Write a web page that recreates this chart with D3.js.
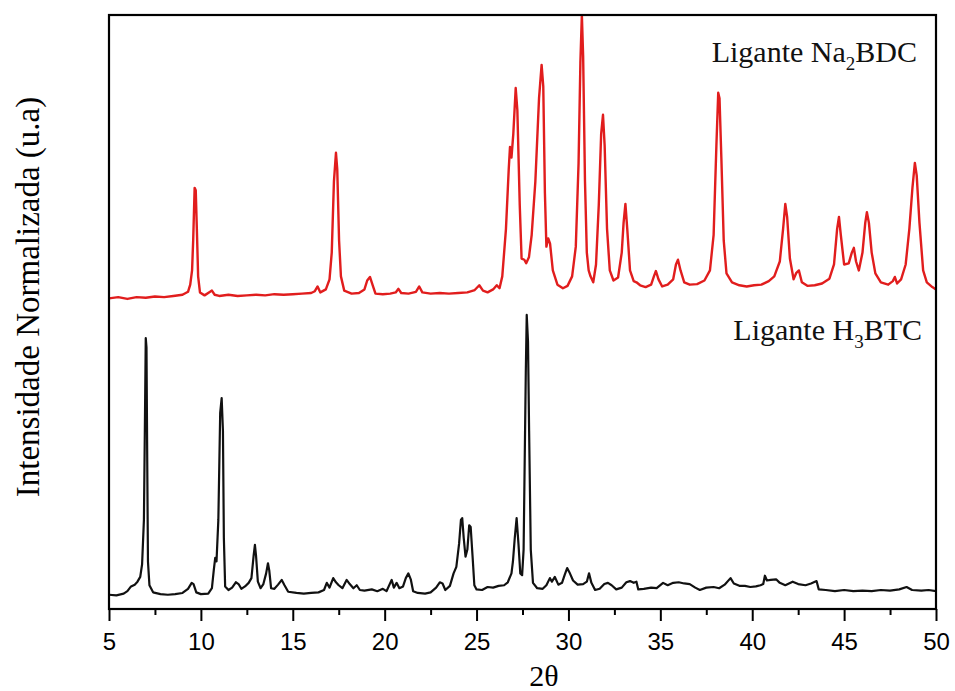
<!DOCTYPE html>
<html>
<head>
<meta charset="utf-8">
<script src="https://cdn.jsdelivr.net/npm/d3@7"></script>
<style>
  html, body { margin: 0; padding: 0; background: #fff; }
  svg { display: block; }
</style>
</head>
<body>
<svg id="chart" width="955" height="691"></svg>
<script>
// Powder X-ray diffraction patterns: [2θ (degrees), normalized intensity]
const seriesNames = ["Ligante Na2BDC", "Ligante H3BTC"];

const na2bdc = [
  [5.0,52.3],[5.5,52.5],[6.0,52.2],[6.5,52.5],[7.0,52.4],[7.5,52.6],[8.0,52.5],[8.5,52.7],[9.0,52.9],
  [9.3,53.4],[9.42,54.6],[9.52,57],[9.58,62],[9.66,70.9],[9.72,70.5],[9.78,64],[9.85,56],[9.95,53.3],[10.2,52.8],
  [10.5,53.4],[10.6,53.6],[10.75,52.9],[11.0,52.7],[11.5,52.9],[12.0,52.7],[12.5,52.8],[13.0,52.9],
  [13.5,52.8],[14.0,53.0],[14.5,52.9],[15.0,53.0],[15.5,53.1],[16.0,53.2],[16.2,53.5],[16.35,54.3],
  [16.5,53.3],[16.8,53.8],[17.0,55.5],[17.12,60],[17.24,72],[17.35,76.8],[17.42,74],[17.52,62],
  [17.62,56],[17.8,53.6],[18.2,53.1],[18.6,53.2],[18.9,53.8],[19.05,55.3],[19.2,55.9],[19.35,54.5],
  [19.5,53.1],[19.9,53.0],[20.3,53.1],[20.6,53.3],[20.75,53.9],[20.9,53.2],[21.3,53.1],[21.7,53.4],
  [21.88,54.3],[22.05,53.3],[22.5,53.1],[23.0,53.2],[23.5,53.1],[24.0,53.2],[24.5,53.3],[24.9,53.7],
  [25.15,54.5],[25.35,53.6],[25.6,53.3],[25.9,53.8],[26.1,54.5],[26.25,54.0],[26.4,56],[26.6,64],
  [26.75,74],[26.82,77.8],[26.9,76],[27.0,80],[27.13,87.7],[27.22,84],[27.35,68],[27.45,59],
  [27.6,58.8],[27.7,58.2],[27.85,59.2],[28.0,63],[28.2,72],[28.4,86],[28.54,91.6],[28.63,88],
  [28.72,70],[28.8,61],[28.9,62.4],[29.0,61.5],[29.15,57],[29.4,54.6],[29.7,54.0],[29.95,54.4],
  [30.2,56],[30.4,61],[30.55,75],[30.65,92],[30.73,100],[30.8,93],[30.9,72],[31.0,60],[31.1,57],
  [31.2,56],[31.35,55],[31.5,58],[31.65,68],[31.78,80],[31.88,83.2],[31.97,78],[32.1,64],[32.25,57],
  [32.45,55.3],[32.7,55.8],[32.9,60],[33.0,65],[33.1,68.2],[33.2,64],[33.35,57],[33.55,55.2],
  [33.7,55.0],[33.9,54.5],[34.2,54.2],[34.5,54.6],[34.65,56],[34.76,56.9],[34.9,55.5],[35.1,54.3],
  [35.4,54.6],[35.7,55.5],[35.85,58],[35.96,58.8],[36.1,57],[36.3,55],[36.6,54.6],[37.0,54.7],
  [37.4,55.3],[37.7,57],[37.9,63],[38.05,78],[38.15,86.9],[38.22,86],[38.32,76],[38.45,62],
  [38.6,56.5],[38.9,55],[39.3,54.5],[39.7,54.3],[40.1,54.5],[40.5,54.6],[40.9,55.2],[41.2,56],
  [41.5,58.5],[41.68,64],[41.8,68.2],[41.9,66],[42.05,59],[42.25,55.5],[42.4,56.6],[42.54,57],
  [42.7,55],[43.0,54.4],[43.4,54.5],[43.8,54.8],[44.2,55.6],[44.45,58],[44.62,64],[44.72,66],
  [44.82,63],[45.0,58],[45.25,58.2],[45.42,60],[45.53,60.8],[45.65,58.5],[45.8,57],[46.0,60],
  [46.15,65],[46.24,66.8],[46.35,65],[46.5,60],[46.7,56.5],[47.0,55],[47.4,54.6],[47.65,55.2],
  [47.76,55.9],[47.88,54.8],[48.1,55.5],[48.35,58],[48.55,64],[48.72,71],[48.85,75.1],[48.95,73],
  [49.1,65],[49.3,57],[49.5,55],[49.8,54.2],[50.0,53.8]
];

const h3btc = [
  [5.0,2.4],[5.4,2.3],[5.8,2.6],[6.0,3.0],[6.2,3.8],[6.4,4.1],[6.55,4.6],[6.7,5.4],[6.8,7.5],
  [6.9,15],[6.95,30],[7.0,45.6],[7.04,44],[7.08,25],[7.12,8],[7.2,4.0],[7.4,2.8],[7.8,2.5],
  [8.2,2.4],[8.6,2.5],[9.0,2.7],[9.3,3.4],[9.5,4.4],[9.6,4.2],[9.75,2.8],[10.0,2.5],[10.4,2.6],
  [10.6,3.5],[10.7,6.5],[10.78,8.6],[10.85,8.0],[10.95,15],[11.05,33],[11.13,35.5],[11.2,30],
  [11.25,12],[11.32,3.8],[11.5,3.2],[11.7,3.6],[11.9,4.5],[12.05,4.2],[12.2,3.4],[12.4,3.8],
  [12.6,4.4],[12.75,5.2],[12.87,9.0],[12.94,10.8],[13.0,9.0],[13.1,4.6],[13.25,3.5],[13.4,4.2],
  [13.55,6.0],[13.65,7.7],[13.72,6.5],[13.82,3.5],[14.0,3.4],[14.2,4.1],[14.4,4.9],[14.55,4.0],
  [14.75,2.9],[15.2,2.7],[15.6,2.6],[16.0,2.7],[16.4,2.8],[16.7,3.2],[16.85,4.4],[17.0,3.6],
  [17.2,5.2],[17.35,4.5],[17.5,4.0],[17.7,3.5],[17.93,4.9],[18.1,4.2],[18.3,3.5],[18.48,4.0],
  [18.65,3.2],[18.9,3.1],[19.3,3.3],[19.6,3.0],[19.9,3.4],[20.1,3.0],[20.38,4.9],[20.5,3.6],
  [20.65,4.4],[20.8,3.5],[21.0,3.8],[21.15,5.2],[21.29,6.0],[21.42,5.0],[21.55,3.0],[21.8,2.7],
  [22.2,2.6],[22.5,2.8],[22.8,3.6],[23.0,4.5],[23.15,4.3],[23.3,3.2],[23.55,3.9],[23.75,6.0],
  [23.9,7.1],[24.05,11],[24.15,15],[24.22,15.3],[24.3,12],[24.4,8.8],[24.5,10],[24.6,14.1],
  [24.68,13.8],[24.78,9.0],[24.88,4.0],[25.0,3.3],[25.3,3.2],[25.6,3.7],[25.9,3.6],[26.2,3.9],
  [26.5,4.0],[26.7,4.5],[26.9,6.0],[26.98,8.0],[27.08,12],[27.18,15.3],[27.28,11],[27.38,6.0],
  [27.48,5.7],[27.56,10],[27.62,25],[27.68,40],[27.73,49.5],[27.8,45],[27.86,30],[27.95,10],
  [28.07,4.4],[28.3,3.5],[28.6,3.4],[28.8,4.0],[28.99,5.2],[29.1,4.6],[29.26,5.4],[29.45,4.1],
  [29.65,4.4],[29.8,5.8],[29.93,6.9],[30.05,6.2],[30.25,4.8],[30.5,4.1],[30.8,4.2],[31.0,4.6],
  [31.12,6.0],[31.25,4.4],[31.45,3.2],[31.7,3.4],[31.95,4.2],[32.15,4.4],[32.35,4.0],[32.6,3.3],
  [32.9,3.6],[33.15,4.5],[33.35,4.7],[33.55,4.4],[33.7,4.6],[33.8,3.3],[34.1,3.4],[34.5,3.6],
  [34.8,3.5],[35.15,4.4],[35.4,4.0],[35.7,4.4],[36.0,4.5],[36.3,4.3],[36.6,4.2],[36.9,3.6],
  [37.15,3.2],[37.5,3.6],[37.9,3.7],[38.2,3.5],[38.5,4.1],[38.82,5.2],[39.0,4.3],[39.3,3.9],
  [39.6,3.9],[39.9,3.7],[40.2,3.8],[40.45,4.0],[40.6,4.2],[40.69,5.6],[40.8,4.8],[41.0,4.9],
  [41.3,5.0],[41.5,4.4],[41.8,4.0],[42.2,4.6],[42.5,4.2],[42.9,4.0],[43.2,4.3],[43.5,4.7],
  [43.62,3.3],[44.0,3.2],[44.5,3.0],[45.0,3.2],[45.5,3.0],[46.0,3.1],[46.5,3.0],[47.0,3.2],
  [47.5,3.1],[48.0,3.3],[48.4,3.7],[48.7,3.2],[49.2,3.1],[49.6,3.2],[50.0,3.0]
];

const majorTicks = [5, 10, 15, 20, 25, 30, 35, 40, 45, 50];
const minorTicks = [7.5, 12.5, 17.5, 22.5, 27.5, 32.5, 37.5, 42.5, 47.5];

const margin = { left: 109, right: 936, top: 15, bottom: 609 };

const svg = d3.select("#chart");

const x = d3.scaleLinear().domain([5, 50]).range([margin.left, margin.right]);
const y = d3.scaleLinear().domain([0, 100]).range([margin.bottom, margin.top]);

const line = d3.line()
  .x(d => x(d[0]))
  .y(d => y(d[1]));

// clip traces to the plot frame
svg.append("clipPath").attr("id", "plotClip")
  .append("rect")
  .attr("x", margin.left).attr("y", margin.top - 1)
  .attr("width", margin.right - margin.left)
  .attr("height", margin.bottom - margin.top + 1);

const traces = svg.append("g").attr("clip-path", "url(#plotClip)");

traces.append("path")
  .datum(h3btc)
  .attr("fill", "none")
  .attr("stroke", "#111")
  .attr("stroke-width", 2.2)
  .attr("stroke-linejoin", "round")
  .attr("d", line);

traces.append("path")
  .datum(na2bdc)
  .attr("fill", "none")
  .attr("stroke", "#e11d1d")
  .attr("stroke-width", 2.4)
  .attr("stroke-linejoin", "round")
  .attr("d", line);

// bottom axis: major ticks with labels, minor ticks without
const xAxis = svg.append("g")
  .attr("transform", `translate(0,${margin.bottom})`)
  .call(d3.axisBottom(x).tickValues(majorTicks).tickSize(12).tickPadding(12).tickFormat(d3.format("d")));
xAxis.select(".domain").remove();
xAxis.selectAll(".tick line").attr("stroke", "#000").attr("stroke-width", 2);
xAxis.selectAll(".tick text")
  .attr("font-family", "'Liberation Sans', Arial, sans-serif")
  .attr("font-size", 24)
  .attr("fill", "#000");

const xMinor = svg.append("g")
  .attr("transform", `translate(0,${margin.bottom})`)
  .call(d3.axisBottom(x).tickValues(minorTicks).tickSize(6).tickFormat(""));
xMinor.select(".domain").remove();
xMinor.selectAll(".tick line").attr("stroke", "#000").attr("stroke-width", 2);

// plot frame
svg.append("rect")
  .attr("x", margin.left).attr("y", margin.top)
  .attr("width", margin.right - margin.left)
  .attr("height", margin.bottom - margin.top)
  .attr("fill", "none")
  .attr("stroke", "#000")
  .attr("stroke-width", 2.2);

// axis titles
const serif = "'Liberation Serif', 'Times New Roman', serif";

svg.append("text")
  .attr("x", 544).attr("y", 686)
  .attr("text-anchor", "middle")
  .attr("font-family", serif)
  .attr("font-size", 30)
  .attr("fill", "#000")
  .text("2θ");

svg.append("text")
  .attr("transform", "translate(39,297) rotate(-90)")
  .attr("text-anchor", "middle")
  .attr("font-family", serif)
  .attr("font-size", 33)
  .attr("fill", "#000")
  .text("Intensidade Normalizada (u.a)");

// series labels with subscripts
function labelWithSub(xEnd, yBase, pre, sub, post) {
  const t = svg.append("text")
    .attr("x", xEnd).attr("y", yBase)
    .attr("text-anchor", "end")
    .attr("font-family", serif)
    .attr("font-size", 30)
    .attr("fill", "#111");
  t.append("tspan").text(pre);
  t.append("tspan").attr("font-size", 19).attr("dy", 8).text(sub);
  t.append("tspan").attr("dy", -8).text(post);
}
labelWithSub(917, 62, "Ligante Na", "2", "BDC");
labelWithSub(922, 340, "Ligante H", "3", "BTC");
</script>
</body>
</html>
